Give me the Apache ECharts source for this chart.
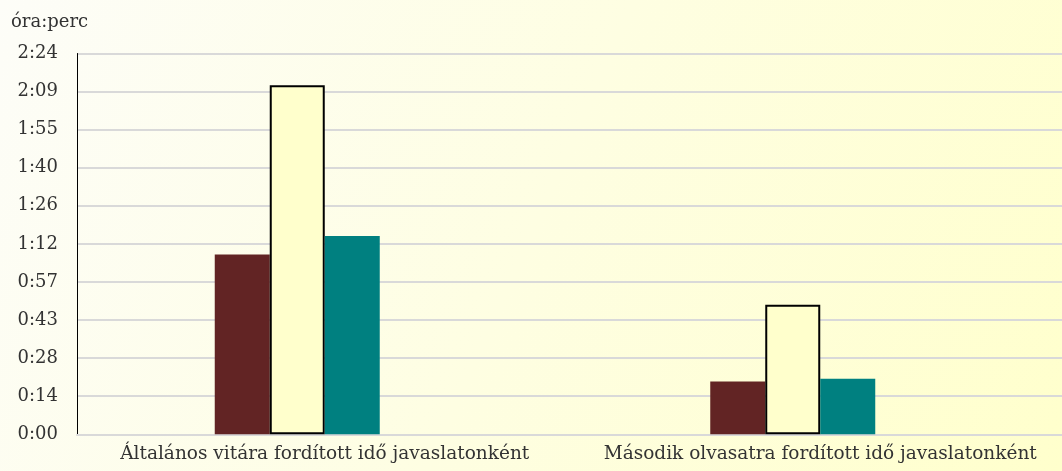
<!DOCTYPE html>
<html>
<head>
<meta charset="utf-8">
<script src="https://cdn.jsdelivr.net/npm/echarts@6/dist/echarts.min.js"></script>
<style>
  html, body { margin: 0; padding: 0; }
  #chart { width: 1062px; height: 471px; }
</style>
</head>
<body>
<div id="chart"></div>
<script>
// values in minutes
const categories = ['Általános vitára fordított idő javaslatonként', 'Második olvasatra fordított idő javaslatonként']
const seriesA = [68, 20]
const seriesB = [132, 49]
const seriesC = [75, 21]
const yTickLabels = ['0:00', '0:14', '0:28', '0:43', '0:57', '1:12', '1:26', '1:40', '1:55', '2:09', '2:24']
const yStep = 14.4

const font = 'DejaVu Serif'
const textColor = '#333'

const chart = echarts.init(document.getElementById('chart'))
chart.setOption({
  animation: false,
  backgroundColor: new echarts.graphic.LinearGradient(0, 0, 1, 1, [
    { offset: 0, color: '#fdfdf8' },
    { offset: 1, color: '#ffffcc' }
  ]),
  textStyle: { fontFamily: font },
  grid: { left: 77, width: 991, top: 53.5, bottom: 36.7, outerBoundsMode: 'none' },
  xAxis: {
    type: 'category',
    data: categories,
    axisTick: { show: false },
    axisLine: { lineStyle: { color: '#d9d9d9', width: 2 } },
    axisLabel: { color: textColor, fontSize: 18.5, fontFamily: font, margin: 10, interval: 0, hideOverlap: false }
  },
  yAxis: {
    type: 'value',
    name: 'óra:perc',
    nameLocation: 'end',
    nameGap: 22,
    nameTextStyle: { color: textColor, fontSize: 18, fontFamily: font, align: 'left', padding: [0, 0, 0, -66] },
    min: 0,
    max: yStep * 10,
    interval: yStep,
    axisLine: { show: true, lineStyle: { color: '#000', width: 1 } },
    axisTick: { show: false },
    axisLabel: {
      color: textColor, fontSize: 18, fontFamily: font, margin: 19,
      formatter: (v) => yTickLabels[Math.round(v / yStep)]
    },
    splitLine: { lineStyle: { color: '#d9d9d9', width: 2 } }
  },
  series: [
    { type: 'bar', data: seriesA, barWidth: 55, barGap: 0, itemStyle: { color: '#622424' } },
    { type: 'bar', data: seriesB, barWidth: 55, barGap: 0, itemStyle: { color: '#ffffcc', borderColor: '#000', borderWidth: 2 } },
    { type: 'bar', data: seriesC, barWidth: 55, barGap: 0, itemStyle: { color: '#008080' } },
    { type: 'bar', data: [], barWidth: 55, barGap: 0 }
  ]
})
</script>
</body>
</html>
